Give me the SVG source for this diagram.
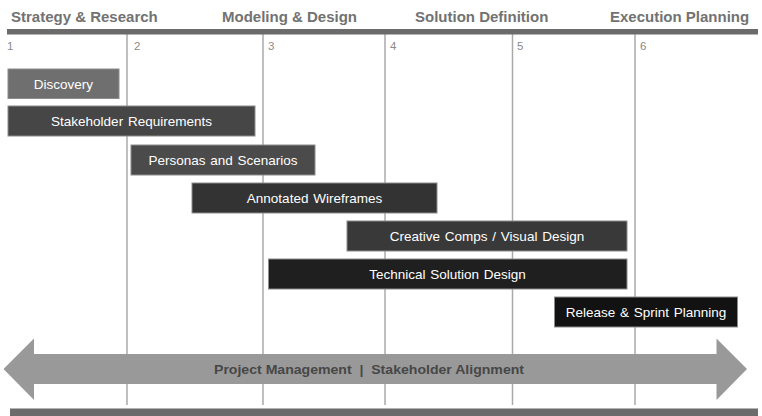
<svg xmlns="http://www.w3.org/2000/svg" width="762" height="416" viewBox="0 0 762 416">
<style>
.hdr{font-family:"Liberation Sans",Arial,sans-serif;font-weight:bold;font-size:15px;fill:#727272}
.num{font-family:"Liberation Sans",Arial,sans-serif;font-size:11.5px;fill:#8a8a8a}
.vl{stroke:#aaaaaa;stroke-width:1.5}
.bar{stroke:#8c8c8c;stroke-width:1}
.bt{font-family:"Liberation Sans",Arial,sans-serif;font-size:13.5px;fill:#ffffff;text-anchor:middle;word-spacing:1px}
.at{font-family:"Liberation Sans",Arial,sans-serif;font-weight:bold;font-size:13.5px;fill:#474747;text-anchor:middle;white-space:pre}
</style>
<rect width="762" height="416" fill="#ffffff"/>
<g id="headers">
<text class="hdr" x="11" y="22">Strategy &amp; Research</text>
<text class="hdr" x="222" y="22">Modeling &amp; Design</text>
<text class="hdr" x="415" y="22">Solution Definition</text>
<text class="hdr" x="610" y="22">Execution Planning</text>
</g>
<g id="grid">
<line class="vl" x1="127" y1="33" x2="127" y2="405"/>
<line class="vl" x1="263" y1="33" x2="263" y2="405"/>
<line class="vl" x1="385" y1="33" x2="385" y2="405"/>
<line class="vl" x1="512.5" y1="33" x2="512.5" y2="405"/>
<line class="vl" x1="635" y1="33" x2="635" y2="405"/>
<rect x="7" y="29" width="751" height="5.5" fill="#6b6b6b"/>
<rect x="10" y="408.5" width="748" height="7.5" fill="#6b6b6b"/>
<text class="num" x="7" y="50">1</text>
<text class="num" x="134" y="50">2</text>
<text class="num" x="268" y="50">3</text>
<text class="num" x="390" y="50">4</text>
<text class="num" x="517" y="50">5</text>
<text class="num" x="640" y="50">6</text>
</g>
<g id="connectors">
<polygon id="pm-arrow" points="3.5,369 34,338.5 34,354 716.5,354 716.5,338.5 747,369 716.5,400 716.5,384 34,384 34,400" fill="#999999"/>
<text class="at" x="369" y="374" textLength="310" lengthAdjust="spacingAndGlyphs" xml:space="preserve">Project Management  |  Stakeholder Alignment</text>
</g>
<g id="discovery">
<rect class="bar" x="8" y="69" width="111" height="29.5" fill="#6f6f6f"/>
<text class="bt" x="63.5" y="88.5">Discovery</text>
</g>
<g id="stakeholder-requirements">
<rect class="bar" x="8" y="106" width="247" height="30" fill="#464646"/>
<text class="bt" x="131.5" y="125.5">Stakeholder Requirements</text>
</g>
<g id="personas">
<rect class="bar" x="131" y="145" width="184" height="30" fill="#4b4b4b"/>
<text class="bt" x="223" y="164.5">Personas and Scenarios</text>
</g>
<g id="wireframes">
<rect class="bar" x="192" y="183" width="245" height="30" fill="#333333"/>
<text class="bt" x="314.5" y="202.5">Annotated Wireframes</text>
</g>
<g id="creative-comps">
<rect class="bar" x="347" y="221" width="280" height="30" fill="#393939"/>
<text class="bt" x="487" y="240.5">Creative Comps / Visual Design</text>
</g>
<g id="technical-design">
<rect class="bar" x="268.5" y="259" width="358.5" height="30" fill="#1f1f1f"/>
<text class="bt" x="447.5" y="278.5">Technical Solution Design</text>
</g>
<g id="release-planning">
<rect class="bar" x="554.5" y="297" width="183" height="30" fill="#121212"/>
<text class="bt" x="646" y="316.5">Release &amp; Sprint Planning</text>
</g>
</svg>
